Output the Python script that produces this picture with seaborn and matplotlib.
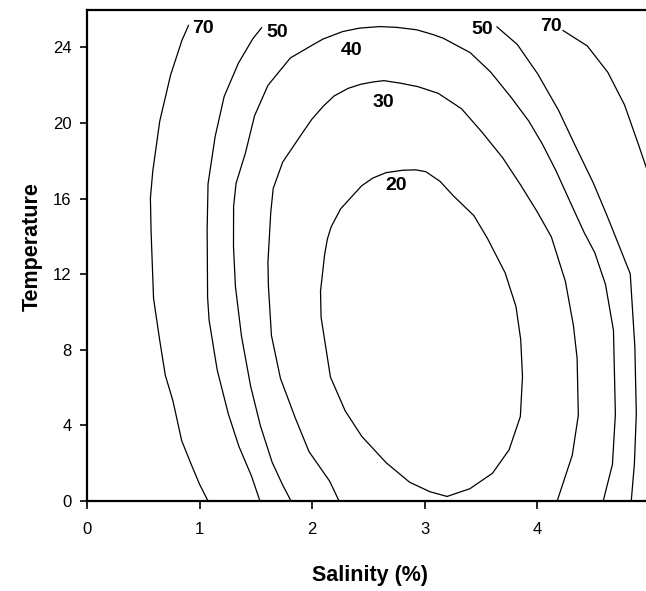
import pandas as pd
import matplotlib
matplotlib.use('Agg')
import matplotlib.pyplot as plt
import seaborn as sns

# Contour lines (salinity %, temperature)
sal_70_left = [1.075, 1.00, 0.926, 0.841, 0.763, 0.695, 0.643, 0.591, 0.569, 0.563, 0.584, 0.646, 0.743, 0.843, 0.902]
temp_70_left = [0.0, 0.88, 1.93, 3.19, 5.30, 6.66, 8.61, 10.72, 14.27, 16.02, 17.45, 20.10, 22.55, 24.37, 25.17]

sal_50_left = [1.536, 1.461, 1.349, 1.254, 1.156, 1.084, 1.071, 1.067, 1.075, 1.138, 1.218, 1.345, 1.473, 1.552]
temp_50_left = [0.0, 1.32, 2.89, 4.63, 6.94, 9.58, 10.79, 14.34, 16.78, 19.28, 21.40, 23.17, 24.46, 25.05]

sal_40 = [1.812, 1.739, 1.645, 1.540, 1.453, 1.372, 1.318, 1.301, 1.302, 1.324, 1.407, 1.488, 1.607, 1.806,
          1.981, 2.096, 2.272, 2.422, 2.600, 2.751, 2.929, 3.072, 3.162, 3.404, 3.586, 3.769, 3.924, 4.044,
          4.165, 4.296, 4.417, 4.510, 4.605, 4.676, 4.693, 4.667, 4.585]
temp_40 = [0.0, 0.83, 2.04, 3.98, 6.08, 8.72, 11.36, 13.47, 15.59, 16.81, 18.41, 20.38, 21.99, 23.44,
           24.05, 24.44, 24.84, 25.02, 25.10, 25.06, 24.93, 24.68, 24.49, 23.72, 22.69, 21.34, 20.10, 18.89,
           17.48, 15.76, 14.19, 13.14, 11.46, 9.03, 4.59, 1.94, 0.0]

sal_30 = [2.239, 2.155, 1.972, 1.850, 1.718, 1.638, 1.611, 1.607, 1.632, 1.654, 1.738, 1.884, 1.996, 2.099,
          2.195, 2.319, 2.433, 2.540, 2.637, 2.789, 2.940, 3.119, 3.327, 3.509, 3.692, 3.848, 3.995, 4.124,
          4.249, 4.320, 4.353, 4.364, 4.310, 4.176]
temp_30 = [0.0, 1.05, 2.61, 4.39, 6.49, 8.76, 11.40, 12.62, 15.27, 16.54, 17.93, 19.22, 20.19, 20.89,
           21.43, 21.83, 22.05, 22.17, 22.24, 22.10, 21.92, 21.57, 20.75, 19.51, 18.16, 16.75, 15.34, 13.98,
           11.62, 9.30, 7.56, 4.54, 2.42, 0.0]

sal_20 = [3.198, 3.046, 2.866, 2.658, 2.440, 2.293, 2.162, 2.079, 2.074, 2.111, 2.135, 2.168, 2.253, 2.440,
          2.540, 2.655, 2.805, 2.921, 3.010, 3.136, 3.255, 3.436, 3.556, 3.714, 3.810, 3.852, 3.868, 3.849,
          3.749, 3.602, 3.401, 3.198]
temp_20 = [0.24, 0.49, 0.99, 2.02, 3.42, 4.77, 6.56, 9.72, 11.10, 13.06, 13.86, 14.50, 15.46, 16.68,
           17.09, 17.37, 17.50, 17.52, 17.42, 16.91, 16.14, 15.10, 13.90, 12.07, 10.29, 8.55, 6.59, 4.47,
           2.71, 1.47, 0.65, 0.24]

sal_50_right = [3.640, 3.821, 4.004, 4.189, 4.338, 4.496, 4.618, 4.741, 4.825, 4.866, 4.879, 4.862, 4.834]
temp_50_right = [25.09, 24.16, 22.59, 20.66, 18.78, 16.84, 15.11, 13.28, 12.02, 8.16, 4.61, 1.97, 0.0]

sal_70_right = [4.226, 4.443, 4.626, 4.774, 4.898, 4.97]
temp_70_right = [24.90, 24.08, 22.68, 20.96, 18.86, 17.6]

# contour labels
label_text = ['70', '50', '40', '30', '20', '50', '70']
label_sal = [1.032, 1.692, 2.347, 2.630, 2.749, 3.506, 4.122]
label_temp = [24.99, 24.79, 23.81, 21.10, 16.68, 24.93, 25.09]

x_ticks = [0, 1, 2, 3, 4]
y_ticks = [0, 4, 8, 12, 16, 20, 24]

pieces = [
    ('70 left', sal_70_left, temp_70_left),
    ('50 left', sal_50_left, temp_50_left),
    ('40', sal_40, temp_40),
    ('30', sal_30, temp_30),
    ('20', sal_20, temp_20),
    ('50 right', sal_50_right, temp_50_right),
    ('70 right', sal_70_right, temp_70_right),
]
df = pd.concat(
    [pd.DataFrame({'Salinity': s, 'Temperature': t, 'line': name}) for name, s, t in pieces],
    ignore_index=True)

sns.set_style('ticks')
plt.rcParams['font.family'] = ['Liberation Sans', 'DejaVu Sans']
plt.rcParams['text.color'] = 'black'
plt.rcParams['axes.labelcolor'] = 'black'
plt.rcParams['xtick.color'] = 'black'
plt.rcParams['ytick.color'] = 'black'

fig = plt.figure(figsize=(6.46, 5.91), dpi=100)
ax = fig.add_axes([0.1347, 0.1523, 0.8653, 0.8315])

sns.lineplot(data=df, x='Salinity', y='Temperature', units='line', estimator=None,
             sort=False, color='black', lw=0.9, ax=ax)

for txt, s, t in zip(label_text, label_sal, label_temp):
    ax.text(s, t, txt, ha='center', va='center', fontsize=14, fontweight='bold', color='black')

ax.set_xlim(0, 4.965)
ax.set_ylim(0, 26)
ax.set_xticks(x_ticks)
ax.set_yticks(y_ticks)

for side in ['left', 'bottom', 'top']:
    ax.spines[side].set_linewidth(1.6)
    ax.spines[side].set_color('black')
ax.spines['right'].set_visible(False)

ax.tick_params(axis='x', direction='out', length=6, width=1.2, pad=9, labelsize=12)
ax.tick_params(axis='y', direction='out', length=5, width=1.2, pad=6, labelsize=12)

ax.set_xlabel('Salinity (%)', fontsize=15.5, fontweight='bold')
ax.set_ylabel('Temperature', fontsize=15.5, fontweight='bold')
ax.xaxis.set_label_coords(0.506, -0.130)
ax.yaxis.set_label_coords(-0.08, 0.517)

fig.savefig('out.png', dpi=100)
